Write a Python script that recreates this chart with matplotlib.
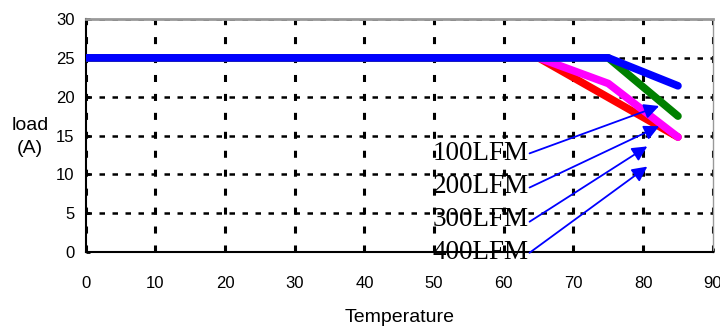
import numpy as np
import matplotlib.pyplot as plt
from matplotlib import font_manager

# derating curves, load (A) vs temperature
temp_400 = [0, 75, 85]
load_400 = [25, 25, 21.4]
temp_300 = [0, 75, 85]
load_300 = [25, 25, 17.5]
temp_200 = [0, 65, 75, 85]
load_200 = [25, 25, 21.7, 14.8]
temp_100 = [0, 65, 85]
load_100 = [25, 25, 14.8]

labels = ["100LFM", "200LFM", "300LFM", "400LFM"]
label_xy = [(49.8, 12.7), (49.8, 8.4), (49.8, 4.2), (49.8, -0.1)]
arrow_tail = [(63.7, 12.7), (63.7, 8.3), (63.7, 3.9), (63.7, -0.1)]
arrow_tip = [(82.3, 18.8), (82.3, 16.2), (80.6, 13.6), (80.6, 11.0)]

xticks = np.arange(0, 91, 10)
yticks = np.arange(0, 31, 5)

names = [f.name for f in font_manager.fontManager.ttflist]
sans = "Liberation Sans Narrow" if "Liberation Sans Narrow" in names else "Liberation Sans"

fig = plt.figure(figsize=(7.2, 3.34), dpi=100)
ax = fig.add_axes([0.119, 0.2455, 0.871, 0.6975])

ax.plot(temp_100, load_100, color="red", lw=5.5, solid_capstyle="round", zorder=3)
ax.plot(temp_200, load_200, color="magenta", lw=5.5, solid_capstyle="round", zorder=4)
ax.plot(temp_300, load_300, color="green", lw=5.5, solid_capstyle="round", zorder=5)
ax.plot(temp_400, load_400, color="blue", lw=5.5, solid_capstyle="round", zorder=6)

for lab, xy, tail, tip in zip(labels, label_xy, arrow_tail, arrow_tip):
    ax.text(xy[0], xy[1], lab, family="Liberation Serif", fontsize=19.5,
            va="center", ha="left", zorder=7)
    ax.annotate("", xy=tip, xytext=tail,
                arrowprops=dict(arrowstyle="-|>,head_length=0.9,head_width=0.45",
                                color="blue", lw=1.3, shrinkA=0, shrinkB=0),
                zorder=7)

ax.set_xlim(0, 90)
ax.set_ylim(0, 30)
ax.set_xticks(xticks)
ax.set_yticks(yticks)
ax.set_axisbelow(True)
ax.yaxis.grid(True, color="black", lw=1.8, linestyle=(0, (2.2, 3.0)))
ax.xaxis.grid(True, color="black", lw=2.2, linestyle=(0, (2.3, 3.9)))
ax.tick_params(direction="in", length=3, width=2, labelsize=12, pad=8)
ax.tick_params(axis="x", pad=17)
for t in ax.get_xticklabels() + ax.get_yticklabels():
    t.set_family(sans)

for s in ["left", "bottom"]:
    ax.spines[s].set_linewidth(1.5)
ax.spines["top"].set_color("#999999")
ax.spines["top"].set_linewidth(2)
ax.spines["right"].set_color("#999999")
ax.spines["right"].set_linewidth(1)

ax.set_xlabel("Temperature", family=sans, fontsize=14, labelpad=13)
fig.text(0.042, 0.59, "load\n(A)", family=sans, fontsize=14,
         ha="center", va="center", linespacing=1.5)

fig.savefig("out.png", dpi=100)
